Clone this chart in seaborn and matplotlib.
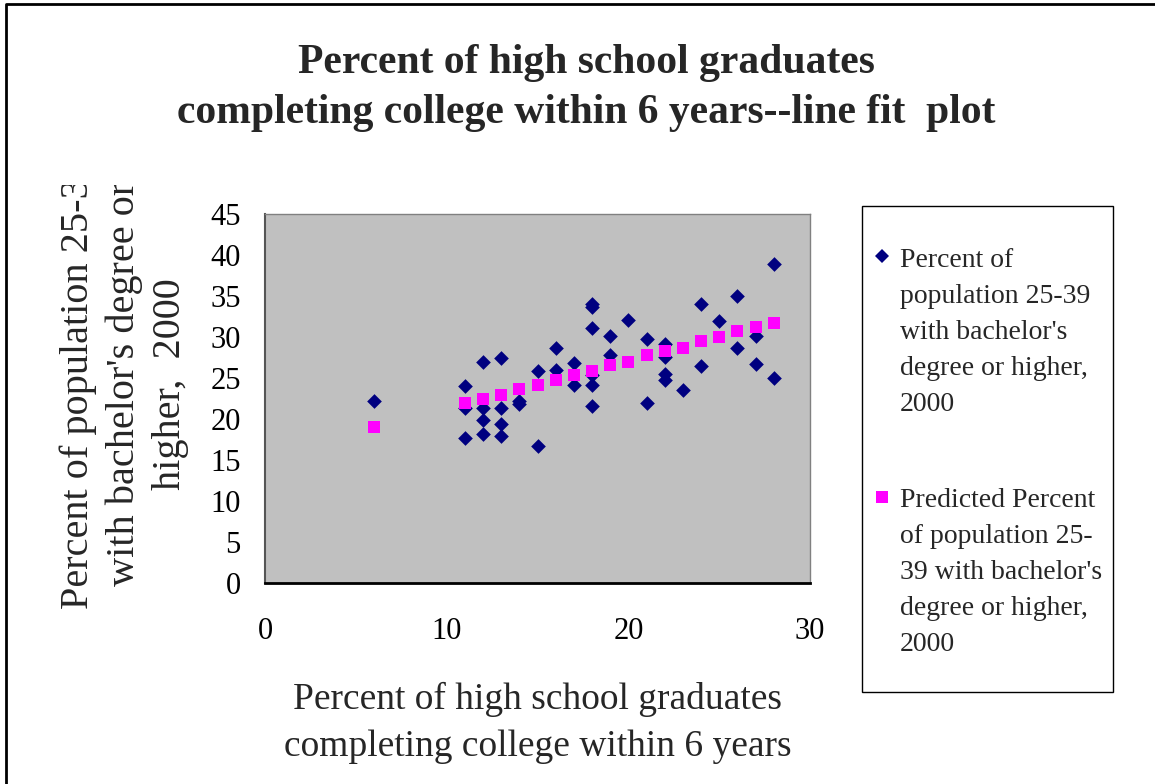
import matplotlib
matplotlib.use("Agg")
import matplotlib.pyplot as plt
import seaborn as sns
import pandas as pd
from matplotlib.lines import Line2D
from matplotlib.patches import Rectangle
from matplotlib.transforms import Bbox, TransformedBbox

# ---- data ----
actual_x = [6,
            11, 11, 11,
            12, 12, 12, 12,
            13, 13, 13, 13,
            14, 14,
            15, 15,
            16, 16,
            17, 17,
            18, 18, 18, 18, 18, 18,
            19, 19,
            20,
            21, 21,
            22, 22, 22, 22,
            23,
            24, 24,
            25,
            26, 26,
            27, 27,
            28, 28]
actual_y = [22.2,
            24.0, 21.3, 17.7,
            27.0, 21.3, 19.9, 18.2,
            27.4, 21.3, 19.4, 17.9,
            22.2, 21.8,
            25.8, 16.7,
            28.6, 26.0,
            26.8, 24.1,
            34.0, 33.6, 31.1, 25.4, 24.1, 21.6,
            30.1, 27.8,
            32.1,
            29.8, 22.0,
            29.1, 27.6, 25.5, 24.7,
            23.5,
            34.0, 26.5,
            31.9,
            35.0, 28.6,
            30.1, 26.7,
            38.9, 25.0]
pred_x = [6, 11, 12, 13, 14, 15, 16, 17, 18, 19, 20, 21, 22, 23, 24, 25, 26, 27, 28]
pred_y = [19.0, 22.0, 22.4, 22.9, 23.6, 24.1, 24.8, 25.4, 25.8, 26.6, 27.0,
          27.8, 28.3, 28.7, 29.5, 30.0, 30.7, 31.2, 31.7]
x_ticks = [0, 10, 20, 30]
y_ticks = [0, 5, 10, 15, 20, 25, 30, 35, 40, 45]

title_text = "Percent of high school graduates\ncompleting college within 6 years--line fit  plot"
xlabel_text = "Percent of high school graduates\ncompleting college within 6 years"
ylabel_text = "Percent of population 25-39\nwith bachelor's degree or\nhigher,  2000"
legend_labels = ["Percent of\npopulation 25-39\nwith bachelor's\ndegree or higher,\n2000",
                 "Predicted Percent\nof population 25-\n39 with bachelor's\ndegree or higher,\n2000"]

NAVY = "#000080"
MAGENTA = "#FF00FF"

sns.set_style("white")
plt.rcParams["font.family"] = ["Liberation Serif", "DejaVu Serif"]

W, H = 1155, 784
fig = plt.figure(figsize=(W / 100, H / 100), dpi=100)


def fx(px):
    return px / W


def fy(py):
    return 1 - py / H


ax = fig.add_axes([fx(265), fy(583), fx(810) - fx(265), fy(214) - fy(583)])
ax.set_facecolor("#C0C0C0")

df_a = pd.DataFrame({"x": actual_x, "y": actual_y})
df_p = pd.DataFrame({"x": pred_x, "y": pred_y})
sns.scatterplot(data=df_a, x="x", y="y", ax=ax, marker="D", s=56,
                color=NAVY, linewidth=0, zorder=3)
sns.scatterplot(data=df_p, x="x", y="y", ax=ax, marker="s", s=85,
                color=MAGENTA, linewidth=0, zorder=4)

ax.set_xlim(0, 30)
ax.set_ylim(0, 45)
ax.set_xticks(x_ticks)
ax.set_yticks(y_ticks)
ax.set_xticklabels([str(v) for v in x_ticks])
ax.set_yticklabels([str(v) for v in y_ticks])
ax.set_xlabel("")
ax.set_ylabel("")
ax.tick_params(axis="both", direction="inout", length=15, width=1.0,
               colors="black", labelsize=22)
ax.tick_params(axis="y", pad=10)
ax.tick_params(axis="x", pad=17)
for side in ["top", "right"]:
    ax.spines[side].set_color("#808080")
    ax.spines[side].set_linewidth(1.0)
ax.spines["left"].set_color("#555555")
ax.spines["left"].set_linewidth(1.5)
ax.spines["bottom"].set_color("black")
ax.spines["bottom"].set_linewidth(2.0)

# title
fig.text(fx(586), fy(88), title_text, ha="center", va="center",
         fontsize=30, fontweight="bold", linespacing=1.42)

# x label
fig.text(fx(537.5), fy(723), xlabel_text, ha="center", va="center",
         fontsize=27, linespacing=1.45)

# y label (clipped at top like the reference)
yl = fig.text(fx(124), fy(384), ylabel_text, ha="center", va="center",
              rotation=90, fontsize=29, linespacing=1.3, multialignment="center")
yl.set_clip_box(TransformedBbox(Bbox.from_extents(0, 0, 1, fy(185)), fig.transFigure))
yl.set_clip_on(True)

# legend box
fig.add_artist(Rectangle((fx(862), fy(692)), fx(1113) - fx(862), fy(206) - fy(692),
                         transform=fig.transFigure, facecolor="white",
                         edgecolor="black", linewidth=1.0, zorder=1))
fig.add_artist(Line2D([fx(882)], [fy(256)], marker="D", markersize=7,
                      color=NAVY, markeredgewidth=0, linestyle="none",
                      transform=fig.transFigure))
fig.add_artist(Line2D([fx(882)], [fy(497)], marker="s", markersize=8,
                      color=MAGENTA, markeredgewidth=0, linestyle="none",
                      transform=fig.transFigure))
fig.text(fx(900), fy(248), legend_labels[0], ha="left", va="top",
         fontsize=20, linespacing=1.58)
fig.text(fx(900), fy(488), legend_labels[1], ha="left", va="top",
         fontsize=20, linespacing=1.58)

# outer chart border (left and top visible)
fig.add_artist(Line2D([fx(6), fx(6), fx(1155)], [0, fy(4), fy(4)],
                      color="black", linewidth=2, transform=fig.transFigure))

fig.savefig("out.png", dpi=100)
